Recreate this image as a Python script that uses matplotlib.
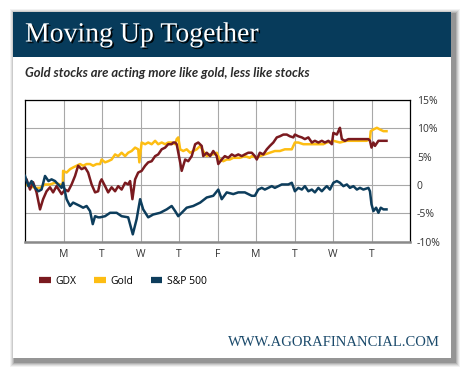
import numpy as np
import matplotlib
matplotlib.use('Agg')
import matplotlib.pyplot as plt
import matplotlib.patheffects as pe
from matplotlib.patches import Rectangle
from matplotlib.lines import Line2D

# ---- data (x in trading days from start, y in % change) ----
gdx_x = [0, 0.04, 0.13, 0.21, 0.30, 0.39, 0.47, 0.56, 0.65, 0.73, 0.82, 0.95, 1.04, 1.12,
         1.21, 1.30, 1.38, 1.47, 1.56, 1.64, 1.73, 1.82, 1.90, 1.95, 1.99, 2.08, 2.16, 2.25,
         2.34, 2.42, 2.51, 2.60, 2.68, 2.73, 2.79, 2.86, 2.94, 3.03, 3.12, 3.20, 3.29, 3.38,
         3.46, 3.55, 3.64, 3.72, 3.81, 3.85, 3.90, 3.94, 4.03, 4.07, 4.16, 4.24, 4.33, 4.42,
         4.50, 4.59, 4.63, 4.72, 4.81, 4.89, 4.98, 5.02, 5.11, 5.19, 5.28, 5.37, 5.45, 5.54,
         5.63, 5.71, 5.80, 5.89, 5.97, 6.02, 6.10, 6.19, 6.28, 6.36, 6.45, 6.54, 6.62, 6.71,
         6.80, 6.88, 6.97, 7.01, 7.10, 7.19, 7.27, 7.36, 7.45, 7.53, 7.62, 7.71, 7.79, 7.88,
         7.97, 8.01, 8.10, 8.14, 8.18, 8.23, 8.31, 8.40, 8.53, 8.66, 8.79, 8.92, 8.96, 9.00,
         9.05, 9.09, 9.18, 9.26, 9.39]
gdx_y = [1.2, 1.0, -0.8, 0.5, -1.3, -4.3, -2.5, -1.1, -0.4, -1.3, -0.2, -1.6, -0.8, -1.1,
         0.1, 1.6, 3.4, 2.8, 3.1, 2.2, 0.1, -1.3, -1.1, 0.5, 1.0, -0.2, -1.3, -0.4,
         -1.1, -0.2, -0.8, 0.4, 0.1, 0.7, -2.5, 1.0, 2.2, 2.5, 3.4, 4.0, 4.2, 5.1,
         5.4, 6.3, 6.6, 7.2, 7.2, 7.5, 7.5, 7.2, 4.0, 2.5, 4.5, 4.2, 5.1, 7.2,
         7.5, 6.9, 5.1, 5.7, 5.1, 6.0, 5.1, 3.7, 4.5, 5.1, 4.8, 5.4, 5.1, 5.4,
         5.1, 5.4, 5.7, 5.7, 5.1, 4.5, 5.7, 5.4, 6.3, 6.9, 7.5, 8.4, 8.6, 8.9,
         8.9, 8.6, 8.4, 8.9, 8.6, 8.4, 8.1, 8.4, 7.5, 7.8, 7.5, 7.8, 7.5, 7.8,
         7.2, 9.2, 8.9, 9.5, 10.1, 8.1, 7.8, 8.1, 8.1, 8.1, 8.1, 8.1, 7.8, 6.6,
         7.5, 6.9, 7.8, 7.8, 7.8]

gold_x = [0, 0.13, 0.26, 0.39, 0.52, 0.65, 0.78, 0.91, 0.98, 0.99, 1.08, 1.17, 1.25, 1.34,
          1.43, 1.51, 1.60, 1.69, 1.77, 1.86, 1.95, 1.99, 2.08, 2.16, 2.25, 2.34, 2.42, 2.51,
          2.60, 2.68, 2.77, 2.86, 2.94, 2.97, 3.03, 3.12, 3.20, 3.29, 3.38, 3.46, 3.55, 3.64,
          3.72, 3.81, 3.90, 3.94, 3.98, 4.03, 4.11, 4.20, 4.29, 4.37, 4.46, 4.55, 4.63, 4.72,
          4.81, 4.89, 4.98, 5.06, 5.15, 5.24, 5.32, 5.41, 5.50, 5.58, 5.71, 5.84, 5.89, 6.02,
          6.10, 6.23, 6.36, 6.49, 6.62, 6.75, 6.93, 6.97, 7.01, 7.10, 7.23, 7.36, 7.49, 7.62,
          7.75, 7.84, 8.01, 8.18, 8.36, 8.53, 8.70, 8.87, 8.96, 8.98, 9.05, 9.14, 9.22, 9.31,
          9.39]
gold_y = [0.1, -0.2, -0.5, -0.5, 0.1, 0.1, 0.4, 0.1, -0.2, 2.5, 2.2, 2.8, 3.1, 3.4,
          3.7, 3.4, 3.7, 3.7, 3.4, 3.7, 3.7, 4.5, 4.0, 4.2, 4.5, 5.4, 5.1, 5.7,
          5.1, 5.7, 6.0, 6.6, 6.3, 4.0, 7.5, 7.2, 7.5, 7.2, 7.8, 7.2, 7.5, 7.2,
          7.5, 7.5, 7.2, 8.1, 8.4, 6.3, 6.0, 6.3, 5.7, 6.0, 6.3, 6.9, 6.0, 5.1,
          5.4, 5.4, 5.7, 4.5, 4.2, 4.5, 4.5, 4.8, 4.8, 4.8, 5.1, 4.8, 5.1, 4.8,
          5.1, 5.4, 5.7, 6.0, 6.0, 6.3, 6.3, 6.9, 7.5, 7.5, 7.2, 7.2, 7.2, 7.2,
          7.2, 7.5, 7.8, 7.5, 7.8, 7.8, 7.8, 7.8, 8.1, 9.5, 9.8, 10.1, 9.8, 9.5,
          9.5]

spx_x = [0, 0.09, 0.17, 0.26, 0.35, 0.43, 0.52, 0.61, 0.69, 0.78, 0.86, 0.95, 0.99, 1.08,
         1.17, 1.25, 1.34, 1.43, 1.51, 1.60, 1.69, 1.76, 1.82, 1.90, 1.95, 2.08, 2.21, 2.38,
         2.51, 2.68, 2.80, 2.90, 2.99, 3.07, 3.20, 3.33, 3.51, 3.68, 3.81, 3.90, 3.98, 4.07,
         4.20, 4.37, 4.55, 4.72, 4.89, 5.02, 5.11, 5.24, 5.41, 5.54, 5.71, 5.80, 5.89, 5.97,
         6.06, 6.15, 6.23, 6.32, 6.41, 6.49, 6.58, 6.67, 6.75, 6.84, 6.93, 7.01, 7.10, 7.19,
         7.27, 7.36, 7.45, 7.53, 7.62, 7.71, 7.79, 7.84, 7.92, 8.01, 8.10, 8.18, 8.27, 8.36,
         8.44, 8.53, 8.62, 8.70, 8.79, 8.92, 8.96, 9.00, 9.05, 9.12, 9.18, 9.24, 9.31, 9.39]
spx_y = [1.6, -0.2, 0.7, -0.5, -1.1, -0.8, 1.6, 0.7, 1.0, 0.7, 0.1, -0.5, 0.4, -2.5,
         -3.7, -3.1, -3.4, -3.7, -4.0, -3.7, -4.6, -6.9, -5.5, -5.7, -5.7, -5.5, -4.9, -4.9,
         -5.5, -5.7, -8.7, -6.0, -2.5, -4.3, -5.7, -5.2, -4.9, -4.3, -3.7, -4.6, -5.5, -4.9,
         -4.0, -3.7, -3.1, -2.2, -1.9, -0.8, -2.5, -1.3, -1.6, -1.3, -1.3, -1.6, -1.9, -1.9,
         -0.8, -0.5, -0.8, -0.5, -0.2, -0.5, -0.2, 0.1, 0.1, 0.1, 0.4, -1.1, -0.5, -0.8,
         -0.2, -1.1, -0.8, -1.3, -0.5, -1.1, -0.5, -0.2, -0.8, 0.4, 0.7, 0.4, -0.2, 0.1,
         -0.5, -0.2, -0.8, -0.5, -0.8, -0.5, -1.1, -3.4, -4.6, -4.0, -4.9, -4.0, -4.3, -4.3]

day_ticks = [1, 2, 3, 4, 5, 6, 7, 8, 9]
day_labels = ['M', 'T', 'W', 'T', 'F', 'M', 'T', 'W', 'T']
y_ticks = [-10, -5, 0, 5, 10, 15]
y_labels = ['-10%', '-5%', '0', '5%', '10%', '15%']

c_gdx = '#7a1a1f'
c_gold = '#fdbd12'
c_spx = '#0d3d5c'
navy = '#073b5b'

W, H = 470, 379
fig = plt.figure(figsize=(W / 100, H / 100), dpi=100)

# background canvas in pixel coords
bg = fig.add_axes([0, 0, 1, 1])
bg.set_xlim(0, W)
bg.set_ylim(H, 0)
bg.axis('off')
# soft shadow of the card
for i, a in enumerate([0.05, 0.07, 0.09, 0.12, 0.16]):
    d = 5 - i
    bg.add_patch(Rectangle((13 + 2 - d, 12 + 2 - d), 438 + 2 * d + 2, 346 + 2 * d + 2,
                           facecolor='black', alpha=a, edgecolor='none'))
bg.add_patch(Rectangle((13, 12), 438, 346, facecolor='white', edgecolor='none'))
bg.add_patch(Rectangle((13, 12), 438, 45, facecolor=navy, edgecolor='none'))

bg.text(25, 35, 'Moving Up Together', color='white', fontsize=20, family='Liberation Serif',
        va='center', ha='left',
        path_effects=[pe.withSimplePatchShadow(offset=(1.2, -1.2), shadow_rgbFace='black', alpha=0.9)])
bg.text(25, 73, 'Gold stocks are acting more like gold, less like stocks', color='#2b2b2b',
        fontsize=9.4, family='Lato', weight='bold', style='italic', va='center', ha='left')
bg.text(440, 342, 'WWW.AGORAFINANCIAL.COM', color='#1b4a6b', fontsize=10.5,
        family='Liberation Serif', va='center', ha='right')

# chart
ax = fig.add_axes([25 / W, 1 - 241.7 / H, 385 / W, 141.7 / H])
ax.plot(gdx_x, gdx_y, color=c_gdx, lw=1.8, zorder=3)
ax.plot(gold_x, gold_y, color=c_gold, lw=1.8, zorder=2)
ax.plot(spx_x, spx_y, color=c_spx, lw=1.8, zorder=3)

ax.set_xlim(0, 10)
ax.set_ylim(-10, 15)
ax.set_xticks(day_ticks)
ax.set_xticklabels(day_labels, fontsize=7.5, color='#333333', family='Open Sans')
ax.set_yticks(y_ticks)
ax.set_yticklabels(y_labels, fontsize=7.5, color='#333333', family='Open Sans')
ax.yaxis.tick_right()
ax.tick_params(axis='both', length=0, pad=5)
ax.grid(True, color='#a8a8a8', lw=0.8)
ax.set_axisbelow(True)
for s in ['left', 'top', 'right']:
    ax.spines[s].set_color('black')
    ax.spines[s].set_linewidth(0.9)
ax.spines['bottom'].set_color('#8a8a8a')
ax.spines['bottom'].set_linewidth(1.8)

handles = [Line2D([], [], color=c, lw=4.5, solid_capstyle='butt') for c in (c_gdx, c_gold, c_spx)]
fig.legend(handles, ['GDX', 'Gold', 'S&P 500'], loc='center left',
           bbox_to_anchor=(30 / W, 1 - 281 / H), ncol=3, frameon=False,
           handlelength=1.1, handletextpad=0.45, columnspacing=1.7,
           prop={'family': 'Open Sans', 'size': 7.5})

fig.savefig('out.png', dpi=100)
